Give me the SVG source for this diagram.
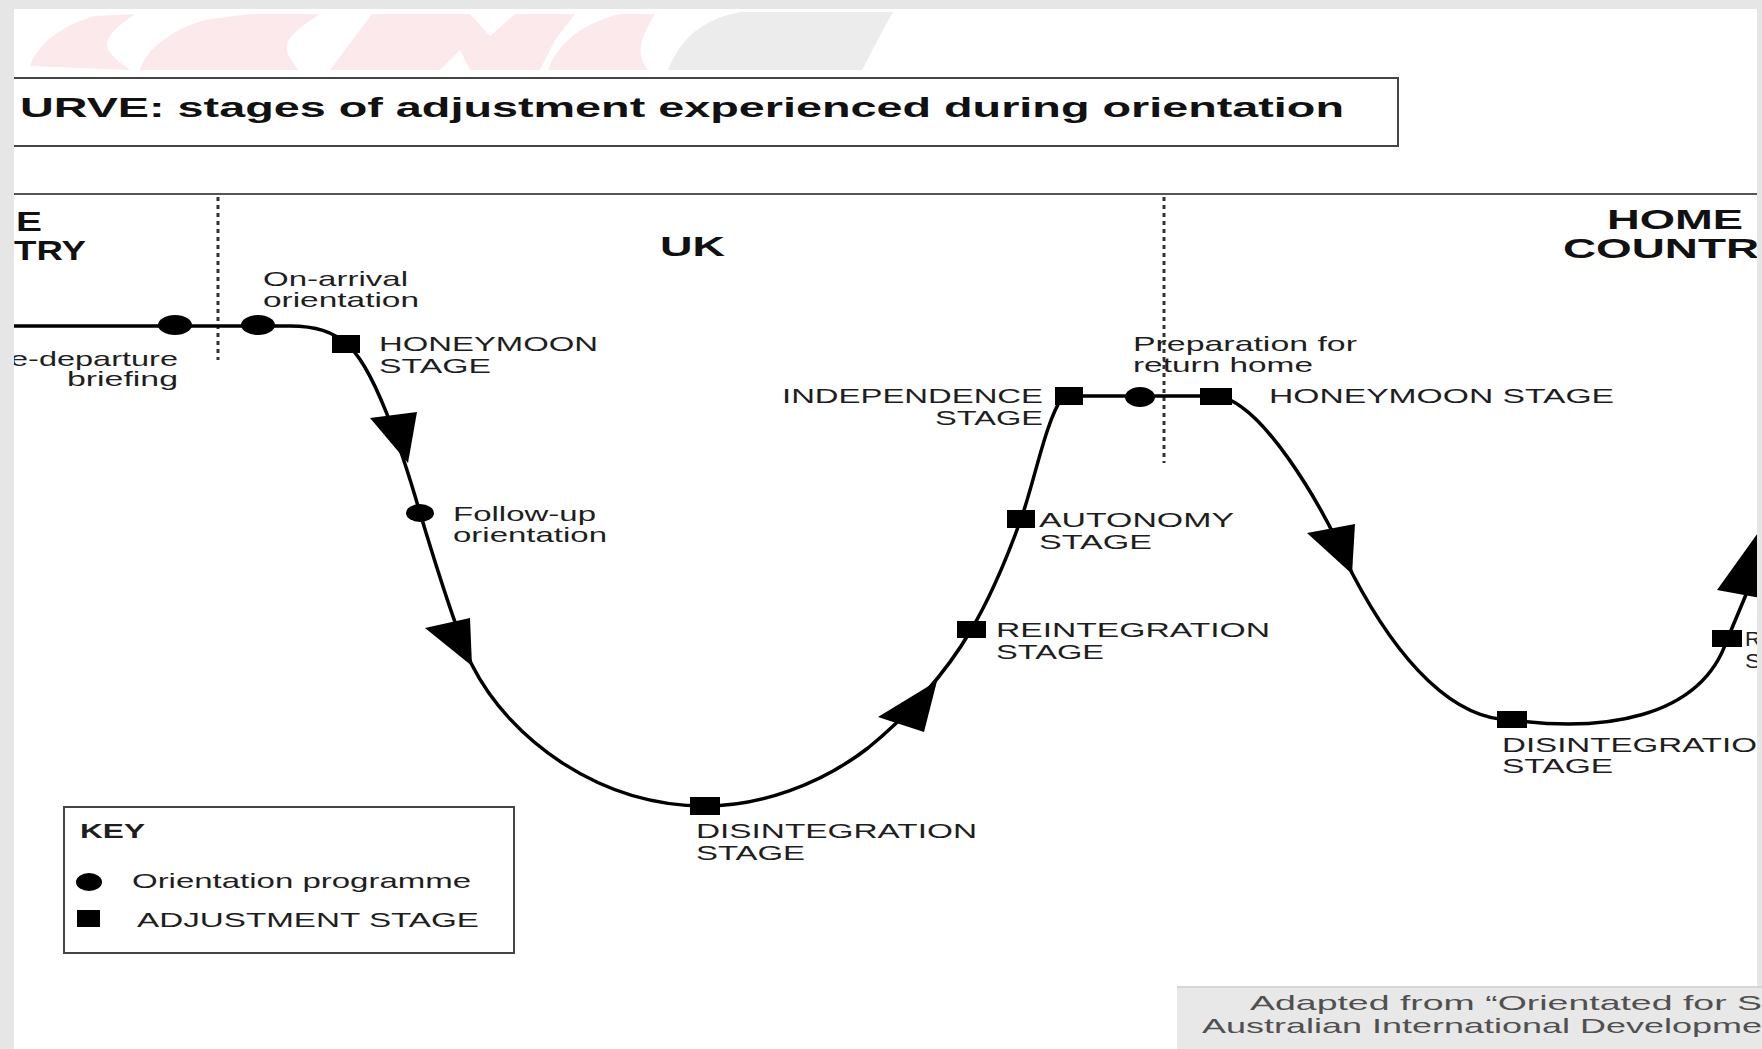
<svg xmlns="http://www.w3.org/2000/svg" width="1762" height="1049" viewBox="0 0 1762 1049">
<style>
.lbl{font-family:"Liberation Sans",Arial,sans-serif;font-size:21px;fill:#1e1e1e}
.hdr{font-family:"Liberation Sans",Arial,sans-serif;font-size:28px;font-weight:bold;fill:#111}
.curve{fill:none;stroke:#000;stroke-width:3.5;stroke-linecap:round;stroke-linejoin:round}
.dot{fill:none;stroke:#333;stroke-width:3;stroke-dasharray:4 4}
.stage{fill:#000}
.orient{fill:#000}
.strip{fill:#e6e6e6}
.wm{fill:#fbe9ec}
</style>
<rect x="0" y="0" width="1762" height="1049" fill="#fff"/>
<g id="watermark">
<path class="wm" d="M30 66 C38 44 60 26 95 16 L135 14 C118 26 98 40 112 55 C118 62 125 66 130 70 Z"/>
<path class="wm" d="M140 70 C146 50 170 30 205 20 L250 14 L320 14 C300 28 278 40 290 58 L298 70 Z"/>
<path class="wm" d="M330 70 L360 30 L372 14 L470 14 L490 36 L515 14 L575 14 L555 40 L540 70 L470 70 L460 50 L440 70 Z"/>
<path class="wm" d="M548 70 C558 44 580 24 620 14 L655 14 C642 36 634 52 648 70 Z"/>
<path d="M668 70 C680 40 700 20 740 12 L893 12 C880 35 870 55 862 70 Z" fill="#ececec"/>
</g>
<g id="title">
<rect x="-10" y="78" width="1408" height="68" fill="none" stroke="#444" stroke-width="2"/>
<text class="hdr" x="20" y="117" textLength="1324" lengthAdjust="spacingAndGlyphs">URVE: stages of adjustment experienced during orientation</text>
</g>
<line x1="0" y1="194" x2="1762" y2="194" stroke="#555" stroke-width="2"/>
<g id="dividers">
<line class="dot" x1="218" y1="197" x2="218" y2="360"/>
<line class="dot" x1="1164" y1="197" x2="1164" y2="463"/>
</g>
<g id="regions">
<text class="hdr" x="16" y="231" textLength="26" lengthAdjust="spacingAndGlyphs">E</text>
<text class="hdr" x="14" y="260" textLength="72" lengthAdjust="spacingAndGlyphs">TRY</text>
<text class="hdr" x="660" y="256" textLength="65" lengthAdjust="spacingAndGlyphs">UK</text>
<text class="hdr" x="1607" y="229" textLength="136" lengthAdjust="spacingAndGlyphs">HOME</text>
<text class="hdr" x="1563" y="258" textLength="196" lengthAdjust="spacingAndGlyphs">COUNTR</text>
</g>
<g id="connectors">
<path class="curve" d="M0 326 L290 326 C312 326 332 330 346 344 C372 362 402 450 420 513 C433 555 455 630 472 665 C510 740 600 806 705 806 C760 806 820 785 868 748 C905 718 945 675 971 630 C990 598 1008 555 1021 519 C1034 483 1046 420 1062 398"/>
<path class="curve" d="M1062 396 L1216 396 C1260 400 1320 500 1352 573 C1400 665 1455 720 1512 720 C1600 732 1700 720 1727 640 L1750 585"/>
<polygon points="370,418 417,412 408,463" fill="#000"/>
<polygon points="425,628 470,618 472,666" fill="#000"/>
<polygon points="878,717 924,732 937,681" fill="#000"/>
<polygon points="1307,533 1355,524 1352,574" fill="#000"/>
<polygon points="1717,590 1772,600 1760,530" fill="#000"/>
</g>
<g id="n-predeparture">
<ellipse class="orient" cx="175" cy="325" rx="17" ry="10"/>
<text class="lbl" x="178" y="366" text-anchor="end" textLength="168" lengthAdjust="spacingAndGlyphs">e-departure</text>
<text class="lbl" x="178" y="386" text-anchor="end" textLength="111" lengthAdjust="spacingAndGlyphs">briefing</text>
</g>
<g id="n-onarrival">
<ellipse class="orient" cx="258" cy="325" rx="17" ry="10"/>
<text class="lbl" x="263" y="286" textLength="145" lengthAdjust="spacingAndGlyphs">On-arrival</text>
<text class="lbl" x="263" y="307" textLength="156" lengthAdjust="spacingAndGlyphs">orientation</text>
</g>
<g id="n-honeymoon-uk">
<rect class="stage" x="332" y="335" width="28" height="18"/>
<text class="lbl" x="379" y="351" textLength="219" lengthAdjust="spacingAndGlyphs">HONEYMOON</text>
<text class="lbl" x="379" y="373" textLength="112" lengthAdjust="spacingAndGlyphs">STAGE</text>
</g>
<g id="n-followup">
<ellipse class="orient" cx="420" cy="513" rx="14" ry="9"/>
<text class="lbl" x="453" y="521" textLength="143" lengthAdjust="spacingAndGlyphs">Follow-up</text>
<text class="lbl" x="453" y="542" textLength="154" lengthAdjust="spacingAndGlyphs">orientation</text>
</g>
<g id="n-disintegration-uk">
<rect class="stage" x="690" y="797" width="30" height="18"/>
<text class="lbl" x="696" y="838" textLength="281" lengthAdjust="spacingAndGlyphs">DISINTEGRATION</text>
<text class="lbl" x="696" y="860" textLength="109" lengthAdjust="spacingAndGlyphs">STAGE</text>
</g>
<g id="n-reintegration-uk">
<rect class="stage" x="957" y="621" width="29" height="17"/>
<text class="lbl" x="996" y="637" textLength="274" lengthAdjust="spacingAndGlyphs">REINTEGRATION</text>
<text class="lbl" x="996" y="659" textLength="108" lengthAdjust="spacingAndGlyphs">STAGE</text>
</g>
<g id="n-autonomy">
<rect class="stage" x="1007" y="510" width="28" height="18"/>
<text class="lbl" x="1039" y="527" textLength="195" lengthAdjust="spacingAndGlyphs">AUTONOMY</text>
<text class="lbl" x="1039" y="549" textLength="113" lengthAdjust="spacingAndGlyphs">STAGE</text>
</g>
<g id="n-independence">
<rect class="stage" x="1055" y="387" width="28" height="18"/>
<text class="lbl" x="1043" y="403" text-anchor="end" textLength="261" lengthAdjust="spacingAndGlyphs">INDEPENDENCE</text>
<text class="lbl" x="1043" y="425" text-anchor="end" textLength="108" lengthAdjust="spacingAndGlyphs">STAGE</text>
</g>
<g id="n-preparation">
<ellipse class="orient" cx="1140" cy="397" rx="15" ry="10"/>
<text class="lbl" x="1133" y="351" textLength="224" lengthAdjust="spacingAndGlyphs">Preparation for</text>
<text class="lbl" x="1133" y="372" textLength="180" lengthAdjust="spacingAndGlyphs">return home</text>
</g>
<g id="n-honeymoon-home">
<rect class="stage" x="1200" y="388" width="32" height="17"/>
<text class="lbl" x="1269" y="403" textLength="345" lengthAdjust="spacingAndGlyphs">HONEYMOON STAGE</text>
</g>
<g id="n-disintegration-home">
<rect class="stage" x="1497" y="711" width="30" height="17"/>
<text class="lbl" x="1502" y="752" textLength="255" lengthAdjust="spacingAndGlyphs">DISINTEGRATIO</text>
<text class="lbl" x="1502" y="773" textLength="111" lengthAdjust="spacingAndGlyphs">STAGE</text>
</g>
<g id="n-reintegration-home">
<rect class="stage" x="1712" y="630" width="30" height="17"/>
<text class="lbl" x="1745" y="646" textLength="16" lengthAdjust="spacingAndGlyphs">R</text>
<text class="lbl" x="1745" y="668" textLength="16" lengthAdjust="spacingAndGlyphs">S</text>
</g>
<g id="key">
<rect x="64" y="807" width="450" height="146" fill="none" stroke="#444" stroke-width="2"/>
<text class="lbl" x="80" y="838" font-weight="bold" textLength="65" lengthAdjust="spacingAndGlyphs">KEY</text>
<ellipse class="orient" cx="89" cy="882" rx="13" ry="9"/>
<text class="lbl" x="132" y="888" textLength="339" lengthAdjust="spacingAndGlyphs">Orientation programme</text>
<rect class="stage" x="77" y="910" width="23" height="17"/>
<text class="lbl" x="137" y="927" textLength="342" lengthAdjust="spacingAndGlyphs">ADJUSTMENT STAGE</text>
</g>
<g id="frame">
<rect class="strip" x="0" y="0" width="1762" height="9"/>
<rect class="strip" x="0" y="0" width="14" height="1049"/>
<rect class="strip" x="1757" y="0" width="5" height="1049"/>
</g>
<g id="credit">
<rect x="1177" y="987" width="585" height="62" fill="#e8e8e8"/>
<line x1="1177" y1="987" x2="1762" y2="987" stroke="#d6d6d6" stroke-width="2"/>
<text class="lbl" x="1250" y="1010" style="fill:#505050" textLength="512" lengthAdjust="spacingAndGlyphs">Adapted from “Orientated for S</text>
<text class="lbl" x="1202" y="1033" style="fill:#505050" textLength="560" lengthAdjust="spacingAndGlyphs">Australian International Developme</text>
</g>
</svg>
